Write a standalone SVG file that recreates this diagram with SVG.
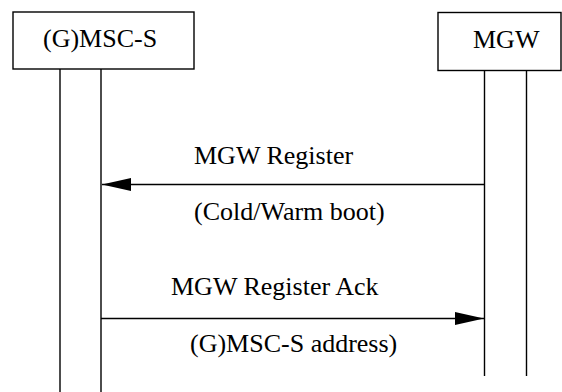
<svg xmlns="http://www.w3.org/2000/svg" width="562" height="392" viewBox="0 0 562 392">
<style>
.box{fill:#fff;stroke:#000;stroke-width:1.4}
.life{stroke:#000;stroke-width:1.4;fill:none}
.msg{stroke:#000;stroke-width:1.4;fill:none}
text{font-family:"Liberation Serif","Times New Roman",serif;font-size:26px;fill:#000}
</style>
<defs>
<marker id="ah" markerUnits="userSpaceOnUse" markerWidth="30" markerHeight="14" refX="29" refY="6.5" orient="auto">
<path d="M0,0 L29,6.5 L0,13 Z" fill="#000"/>
</marker>
</defs>
<rect width="562" height="392" fill="#fff"/>
<g id="msc">
<rect class="box" x="13" y="12" width="181" height="57"/>
<text x="43" y="47">(G)MSC-S</text>
<line class="life" x1="60" y1="69" x2="60" y2="392"/>
<line class="life" x1="101" y1="69" x2="101" y2="392"/>
</g>
<g id="mgw">
<rect class="box" x="438" y="12.5" width="123" height="58"/>
<text x="473" y="48">MGW</text>
<line class="life" x1="484.5" y1="70.5" x2="484.5" y2="376"/>
<line class="life" x1="526.5" y1="70.5" x2="526.5" y2="376"/>
</g>
<g id="connectors">
<line class="msg" x1="484.5" y1="184.5" x2="102" y2="184.5" marker-end="url(#ah)"/>
<text x="194" y="163.5">MGW Register</text>
<text x="194" y="220">(Cold/Warm boot)</text>
<line class="msg" x1="101" y1="318.5" x2="484" y2="318.5" marker-end="url(#ah)"/>
<text x="171" y="295">MGW Register Ack</text>
<text x="190" y="352">(G)MSC-S address)</text>
</g>
</svg>
